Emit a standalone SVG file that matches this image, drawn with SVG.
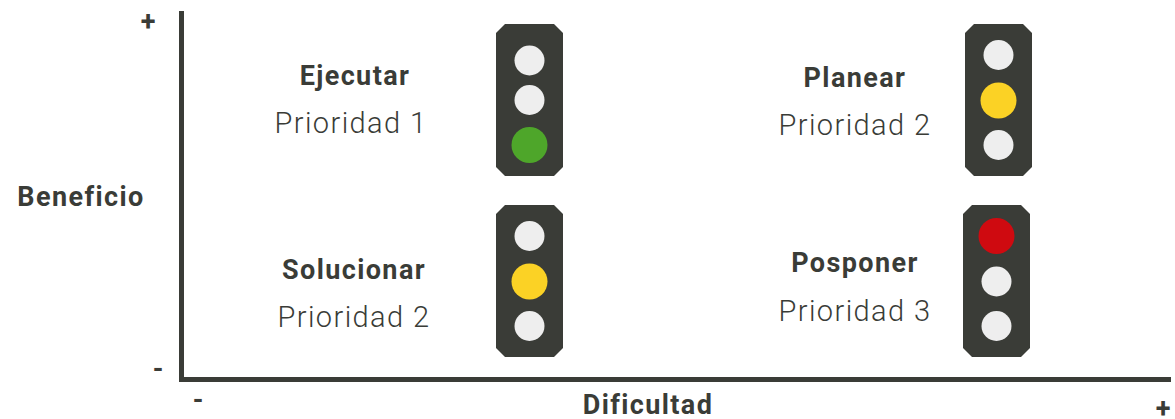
<svg xmlns="http://www.w3.org/2000/svg" width="1175" height="419" viewBox="0 0 1175 419">
<style>
.b{font-family:Roboto,"Liberation Sans",sans-serif;font-weight:700;font-size:27px;letter-spacing:1.4px;fill:#3a3c37;text-anchor:middle}
.p{font-family:Roboto,"Liberation Sans",sans-serif;font-weight:300;font-size:29px;letter-spacing:1.4px;fill:#3a3c37;text-anchor:middle}
.s{font-family:Roboto,"Liberation Sans",sans-serif;font-weight:700;font-size:27px;fill:#3a3c37;text-anchor:middle}
.h{fill:#3a3c37}.w{fill:#eeeeee}.g{fill:#4ea62a}.y{fill:#fbd225}.r{fill:#cf0a10}
</style>
<defs>
<path id="tl" class="h" d="M9 0H58L67 9V143L58 152H9L0 143V9Z"/>
</defs>
<g id="connectors">
<path d="M181.500 11V379.500H1171" fill="none" stroke="#3a3c37" stroke-width="5"/>
</g>
<g id="axis-labels">
<text class="s" x="148" y="31">+</text>
<text class="s" x="158" y="378">-</text>
<text class="s" x="198" y="409">-</text>
<text class="s" x="1163" y="418">+</text>
<text class="b" x="81" y="206">Beneficio</text>
<text class="b" x="648" y="414">Dificultad</text>
</g>
<g id="ejecutar">
<use href="#tl" x="496" y="24"/>
<circle class="w" cx="529.500" cy="60.500" r="15"/><circle class="w" cx="529.500" cy="100" r="15"/><circle class="g" cx="529.500" cy="145" r="18"/>
<text class="b" x="355" y="85">Ejecutar</text><text class="p" x="351" y="133">Prioridad 1</text>
</g>
<g id="planear">
<use href="#tl" x="965" y="24"/>
<circle class="w" cx="998.500" cy="55" r="15"/><circle class="y" cx="998.500" cy="100.500" r="18"/><circle class="w" cx="998.500" cy="145" r="15"/>
<text class="b" x="855" y="87">Planear</text><text class="p" x="855" y="135">Prioridad 2</text>
</g>
<g id="solucionar">
<use href="#tl" x="496" y="205"/>
<circle class="w" cx="529.500" cy="236" r="15"/><circle class="y" cx="529.500" cy="281.500" r="18"/><circle class="w" cx="529.500" cy="326" r="15"/>
<text class="b" x="354" y="279">Solucionar</text><text class="p" x="354" y="327">Prioridad 2</text>
</g>
<g id="posponer">
<use href="#tl" x="963" y="205"/>
<circle class="r" cx="996.500" cy="236" r="18"/><circle class="w" cx="996.500" cy="281.500" r="15"/><circle class="w" cx="996.500" cy="326" r="15"/>
<text class="b" x="855" y="272">Posponer</text><text class="p" x="855" y="321">Prioridad 3</text>
</g>
</svg>
